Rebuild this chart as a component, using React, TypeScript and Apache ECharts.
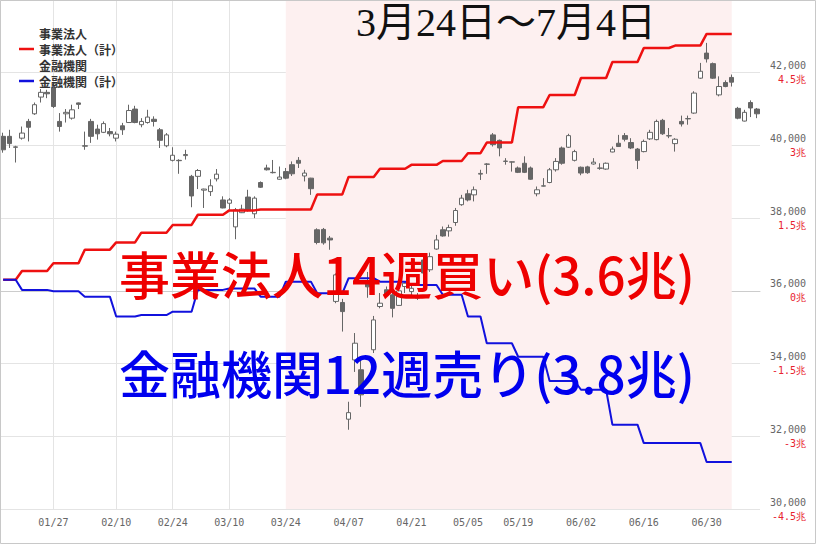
import React, { useEffect, useRef } from 'react';
import * as echarts from 'echarts';

// Trading days (2025)
const dates = [
  '01/15','01/16','01/17','01/20','01/21','01/22','01/23','01/24','01/27','01/28','01/29','01/30','01/31',
  '02/03','02/04','02/05','02/06','02/07','02/10','02/12','02/13','02/14','02/17','02/18','02/19','02/20','02/21','02/25','02/26','02/27','02/28',
  '03/03','03/04','03/05','03/06','03/07','03/10','03/11','03/12','03/13','03/14','03/17','03/18','03/19','03/21','03/24','03/25','03/26','03/27','03/28','03/31',
  '04/01','04/02','04/03','04/04','04/07','04/08','04/09','04/10','04/11','04/14','04/15','04/16','04/17','04/18','04/21','04/22','04/23','04/24','04/25','04/28','04/30',
  '05/01','05/02','05/07','05/08','05/09','05/12','05/13','05/14','05/15','05/16','05/19','05/20','05/21','05/22','05/23','05/26','05/27','05/28','05/29','05/30',
  '06/02','06/03','06/04','06/05','06/06','06/09','06/10','06/11','06/12','06/13','06/16','06/17','06/18','06/19','06/20','06/23','06/24','06/25','06/26','06/27','06/30',
  '07/01','07/02','07/03','07/04','07/07','07/08','07/09','07/10',
];

// Daily candles: [open, close, low, high]
const ohlc = [
  [40250,39880,39800,40350],[40250,40050,39930,40430],[39960,39950,39530,39990],[40200,40340,40160,40520],
  [40660,40500,40110,40730],[40870,41120,40840,41180],[41330,41460,41180,41550],[41460,41420,41300,41530],
  [41590,41070,41030,41720],[40660,40520,40380,40890],[40870,40910,40630,41000],[40750,40980,40710,41120],
  [41170,41130,41000,41180],
  [39990,39980,39880,40380],[40660,40250,40070,40730],[40450,40320,40160,40570],[40360,40600,40340,40660],
  [40380,40320,40250,40480],[40200,40310,40110,40380],[40540,40430,40290,40620],[40630,40960,40620,41120],
  [41000,40630,40610,41090],[40570,40660,40500,40750],[40630,40780,40600,40980],[40720,40660,40520,40800],
  [40430,40140,39930,40480],[39990,40290,39950,40340],[39590,39730,39560,39950],[39590,39580,39220,39620],
  [39720,39750,39610,39880],[39150,38610,38300,39190],
  [39150,39310,38800,39350],[38770,38800,38280,38810],[38730,38890,38610,39070],[39080,39210,39010,39350],
  [38500,38280,38270,38600],[38410,38500,38230,38550],[37760,38230,37420,38280],[38150,38250,38140,38370],
  [38580,38210,38180,38780],[38120,38550,38000,38600],[38980,38850,38830,39010],[39380,39330,39310,39470],
  [39250,39260,39230,39600],[39070,39130,39060,39420],[39280,39100,39070,39380],[39470,39220,39160,39560],
  [39590,39510,39380,39680],[39160,39240,39010,39330],[39100,38810,38640,39110],[37680,37330,37280,37720],
  [37690,37320,37270,37730],[37450,37400,37130,37510],[35710,36440,35660,36480],[35680,35430,34880,35780],
  [32470,32650,32180,32950],[34100,34560,33770,34840],[33830,33140,32810,34180],[36250,36110,35810,36520],
  [34380,35200,34290,35310],[35570,35660,35520,35940],[36030,35890,35840,36120],[35890,35520,35270,36070],
  [35600,36000,35590,36170],[36120,36210,35940,36260],[35980,36070,35840,36210],[35800,35840,35750,35940],
  [36850,36490,36350,36900],[36580,36940,36520,37050],[37150,37400,37130,37540],[37680,37510,37490,37770],
  [37650,37740,37490,37820],
  [37880,38210,37790,38280],[38370,38550,38340,38640],[38670,38500,38460,38780],[38640,38780,38460,38870],
  [39210,39230,39050,39330],[39480,39490,39220,39510],[40290,40020,39970,40340],[40140,39930,39700,40160],
  [39560,39570,39470,39650],[39540,39550,39280,39560],[39380,39260,39240,39420],[39510,39260,39240,39700],
  [39380,39070,39050,39420],[38670,38780,38600,38870],[38880,38890,38870,39100],[38980,39330,38960,39380],
  [39330,39560,39280,39650],[39930,39510,39470,39970],[39950,40270,39930,40320],[39590,39830,39560,39880],
  [39400,39240,39180,39420],[39410,39250,39220,39440],[39490,39540,39470,39650],[39370,39380,39330,39510],
  [39350,39510,39330,39530],[39820,39900,39810,39970],[40060,39970,39960,40290],[40270,40170,40110,40340],
  [40080,39930,39900,40200],[39900,39590,39350,39930],[39830,40110,39810,40160],[40180,40360,40150,40430],
  [40160,40660,40140,40710],[40690,40320,40290,40730],[40260,40270,40200,40480],[40050,40170,39830,40200],
  [40660,40590,40520,40820],[40730,40740,40570,40820],[40890,41440,40870,41490],[41850,42040,41830,42270],
  [42540,42380,42280,42820],
  [42250,41850,41830,42280],[41390,41620,41350,41900],[41730,41620,41600,41790],[41870,41740,41620,41950],
  [41020,40750,40720,41060],[40670,40910,40660,40980],[41180,41030,40780,41240],[41000,40870,40750,41030],
];

// Weekly cumulative net (兆円), by week starting Monday
const weekMondays = ['01/13','01/20','01/27','02/03','02/10','02/17','02/24','03/03','03/10','03/17','03/24','03/31','04/07','04/14','04/21','04/28','05/05','05/12','05/19','05/26','06/02','06/09','06/16','06/23','06/30','07/07'];
const corpCum = [0.23,0.41,0.57,0.85,1.00,1.20,1.36,1.57,1.66,1.68,1.68,1.99,2.35,2.52,2.60,2.68,2.84,3.06,3.79,4.04,4.39,4.72,5.01,5.06,5.30,null];
const finCum = [0.23,0.02,-0.01,-0.12,-0.53,-0.50,-0.43,0.02,0.05,-0.12,0.19,-0.05,0.26,0.19,0.12,-0.08,-0.53,-1.08,-1.36,-1.86,-2.04,-2.76,-3.14,-3.14,-3.53,null];

const tickDates = ['01/27','02/10','02/25','03/10','03/24','04/07','04/21','05/07','05/19','06/02','06/16','06/30'];
const tickLabels = ['01/27','02/10','02/24','03/10','03/24','04/07','04/21','05/05','05/19','06/02','06/16','06/30'];
const shadeRange = ['03/24', '07/04'];

const priceMin = 30000;
const priceMax = 44000;
const priceStep = 2000;
const zeroPrice = 36000;
const choPerStep = 1.5;

function weekOf(d: string) {
  let w = 0;
  for (let i = 0; i < weekMondays.length; i++) if (weekMondays[i] <= d) w = i;
  return w;
}

export default function App() {
  const ref = useRef<HTMLDivElement>(null);
  useEffect(() => {
    if (!ref.current) return;
    const chart = echarts.init(ref.current, null, { renderer: 'svg' });
    const toCho = (p: number) => ((p - zeroPrice) / priceStep) * choPerStep;
    const corpLine = dates.map((d) => corpCum[weekOf(d)]);
    const finLine = dates.map((d) => finCum[weekOf(d)]);
    const isTick = (_i: number, v: string) => tickDates.includes(v);
    const mono = '"DejaVu Sans Mono", monospace';
    const cjk = '"Noto Sans CJK JP", sans-serif';
    const lineIcon = 'path://M0,0H15V2.5H0Z';

    chart.setOption({
      animation: false,
      backgroundColor: '#fff',
      grid: { left: 0, right: 56, top: 0, bottom: 35 },
      legend: {
        orient: 'vertical',
        left: 19,
        top: 27,
        padding: 0,
        itemWidth: 15,
        itemHeight: 12,
        itemGap: 4,
        textStyle: { fontSize: 12, color: '#333', fontWeight: 'bold', fontFamily: cjk },
        data: [
          { name: '事業法人', icon: 'none' },
          { name: '事業法人（計）', icon: lineIcon },
          { name: '金融機関', icon: 'none' },
          { name: '金融機関（計）', icon: lineIcon },
        ],
      },
      xAxis: {
        type: 'category',
        data: dates,
        boundaryGap: true,
        axisLine: { show: true, lineStyle: { color: '#ccc' } },
        axisTick: { show: false, alignWithLabel: true, interval: isTick },
        axisLabel: {
          interval: isTick,
          formatter: (v: string) => tickLabels[tickDates.indexOf(v)] ?? '',
          fontFamily: mono,
          fontSize: 10,
          color: '#666',
          margin: 8,
        },
        splitLine: { show: true, interval: isTick, alignWithLabel: true, lineStyle: { color: '#e4e4e4' } },
      },
      yAxis: [
        {
          type: 'value',
          position: 'right',
          min: priceMin,
          max: priceMax,
          interval: priceStep,
          axisLine: { show: false },
          axisTick: { show: false },
          splitLine: { lineStyle: { color: '#e4e4e4' } },
          axisLabel: {
            showMaxLabel: false,
            align: 'right',
            margin: 46,
            formatter: (v: number) => `{a|${v.toLocaleString('en-US')}}\n{b|${toCho(v)}兆}`,
            rich: {
              a: { fontFamily: mono, fontSize: 10, color: '#666', lineHeight: 14, align: 'right' },
              b: { fontFamily: mono, fontSize: 10, color: '#e8232f', lineHeight: 14, align: 'right' },
            },
          },
        },
        {
          type: 'value',
          show: false,
          min: toCho(priceMin),
          max: toCho(priceMax),
          splitLine: { show: false },
        },
      ],
      series: [
        {
          name: '日経平均',
          type: 'candlestick',
          data: ohlc,
          barWidth: 5,
          clip: false,
          itemStyle: { color: '#fff', color0: '#666', borderColor: '#666', borderColor0: '#666', borderWidth: 1 },
          markArea: {
            silent: true,
            itemStyle: { color: '#fdf0f0' },
            data: [[{ xAxis: shadeRange[0] }, { xAxis: shadeRange[1] }]],
          },
          z: 3,
        },
        { name: '事業法人', type: 'line', data: [], symbol: 'none' },
        {
          name: '事業法人（計）',
          type: 'line',
          yAxisIndex: 1,
          data: corpLine,
          symbol: 'none',
          lineStyle: { color: '#ee1111', width: 2.5 },
          itemStyle: { color: '#ee1111' },
          z: 4,
        },
        { name: '金融機関', type: 'line', data: [], symbol: 'none' },
        {
          name: '金融機関（計）',
          type: 'line',
          yAxisIndex: 1,
          data: finLine,
          symbol: 'none',
          lineStyle: { color: '#1111dd', width: 2 },
          itemStyle: { color: '#1111dd' },
          z: 4,
        },
      ],
      graphic: [
        {
          type: 'text',
          left: 356,
          top: 2,
          z: 100,
          style: { text: '3月24日～7月4日', fill: '#111', font: '40px "Liberation Serif", "Noto Sans CJK JP", serif' },
        },
        {
          type: 'text',
          x: 119,
          y: 273,
          z: 100,
          style: { text: '事業法人14週買い(3.6兆)', fill: '#ee0000', font: `500 51px ${cjk}`, verticalAlign: 'middle' },
        },
        {
          type: 'text',
          x: 119,
          y: 372,
          z: 100,
          style: { text: '金融機関12週売り(3.8兆)', fill: '#0000ee', font: `500 51px ${cjk}`, verticalAlign: 'middle' },
        },
        {
          type: 'rect',
          z: 100,
          shape: { x: 0.5, y: 0.5, width: 815, height: 543 },
          style: { fill: 'none', stroke: '#c8c8c8', lineWidth: 1 },
        },
      ],
    });
    return () => chart.dispose();
  }, []);
  return <div ref={ref} style={{ position: 'absolute', left: 0, top: 0, width: 816, height: 544 }} />;
}
